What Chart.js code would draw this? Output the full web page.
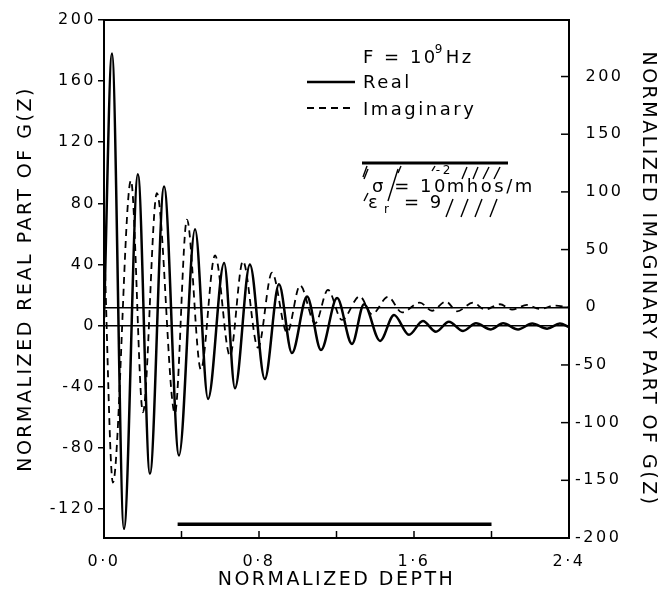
<!DOCTYPE html>
<html>
<head>
<meta charset="utf-8">
<script src="https://cdn.jsdelivr.net/npm/chart.js@4.4.0/dist/chart.umd.min.js"></script>
<style>
  html, body { margin: 0; padding: 0; background: #fff; }
</style>
</head>
<body>
<canvas id="gzChart" width="662" height="594"></canvas>
<script>
// values (peaks / troughs of each oscillation)
const realDepth = [0.000, 0.041, 0.103, 0.175, 0.237, 0.310, 0.387, 0.470, 0.537, 0.620,
                   0.676, 0.753, 0.830, 0.903, 0.970, 1.048, 1.120, 1.203, 1.280, 1.342,
                   1.425, 1.497, 1.574, 1.646, 1.713, 1.780, 1.853, 1.920, 1.997, 2.060,
                   2.137, 2.210, 2.287, 2.353, 2.400];
const realValue = [5, 178, -133, 99, -97, 91, -85, 63, -48, 41,
                   -41, 40, -35, 27, -18, 19, -16, 18, -12, 14,
                   -10, 7, -6, 3, -4, 2.5, -3.5, 1.5, -2.5, 1.5,
                   -2.5, 1.3, -2, 1.3, -1];

const imagDepth = [0.000, 0.046, 0.139, 0.201, 0.273, 0.366, 0.428, 0.500, 0.573, 0.650,
                   0.717, 0.795, 0.867, 0.945, 1.012, 1.090, 1.156, 1.228, 1.320, 1.383,
                   1.466, 1.538, 1.630, 1.693, 1.765, 1.822, 1.905, 1.966, 2.044, 2.106,
                   2.183, 2.250, 2.328, 2.400];
const imagValue = [60, -152, 110, -91, 99, -92, 76, -54, 45, -42,
                   40, -35, 30, -22, 19, -14, 15, -11, 9.5, -6,
                   9, -4.5, 4, -3, 5, -3.5, 4, -2, 2.6, -2,
                   2, -1.5, 1.5, 0];

// thick bar near the bottom of the plot
const barDepth = [0.38, 2.0];
const barValue = [-130, -130];

const leftTicks = [-120, -80, -40, 0, 40, 80, 120, 160, 200];
const rightTicks = [-200, -150, -100, -50, 0, 50, 100, 150, 200];
const depthTicks = [0, 0.4, 0.8, 1.2, 1.6, 2.0, 2.4];
const depthLabels = ['0·0', '', '0·8', '', '1·6', '', '2·4'];

const FONT = 'DejaVu Sans';
const SPACING = '2.5px';

function pts(xs, ys) {
    return xs.map((x, i) => ({ x: x, y: ys[i] }));
}

function line(ctx, x1, y1, x2, y2) {
    ctx.beginPath();
    ctx.moveTo(x1, y1);
    ctx.lineTo(x2, y2);
    ctx.stroke();
}

const annotate = {
    id: 'annotate',
    beforeLayout(chart) { chart.ctx.letterSpacing = SPACING; },
    beforeDraw(chart) { chart.ctx.letterSpacing = SPACING; },
    afterDraw(chart) {
        const { ctx, chartArea: a, scales } = chart;
        ctx.save();
        ctx.strokeStyle = '#000';
        ctx.fillStyle = '#000';
        ctx.lineCap = 'butt';

        // top of the frame
        ctx.lineWidth = 2;
        line(ctx, a.left, a.top, a.right, a.top);

        // inward ticks on bottom and right axes
        ctx.lineWidth = 1.5;
        depthTicks.forEach(v => {
            if (v > 0 && v < 2.4) {
                const px = scales.x.getPixelForValue(v);
                line(ctx, px, a.bottom, px, a.bottom - 7);
            }
        });
        rightTicks.forEach(v => {
            const py = scales.y1.getPixelForValue(v);
            line(ctx, a.right, py, a.right - 8, py);
        });

        // legend
        const lx = a.right - 262, tx = a.right - 206;
        ctx.textBaseline = 'middle';
        ctx.textAlign = 'left';
        ctx.letterSpacing = SPACING;
        ctx.font = '18px "' + FONT + '"';
        let w = ctx.measureText('F = 10').width;
        ctx.fillText('F = 10', tx, a.top + 38);
        ctx.font = '12px "' + FONT + '"';
        ctx.fillText('9', tx + w - 3, a.top + 30);
        ctx.font = '18px "' + FONT + '"';
        ctx.fillText('Hz', tx + w + 8, a.top + 38);

        ctx.lineWidth = 2.5;
        line(ctx, lx, a.top + 62, lx + 48, a.top + 62);
        ctx.fillText('Real', tx, a.top + 63);
        ctx.lineWidth = 2;
        ctx.setLineDash([7, 5]);
        line(ctx, lx, a.top + 88, lx + 48, a.top + 88);
        ctx.setLineDash([]);
        ctx.fillText('Imaginary', tx, a.top + 90);

        // ground symbol
        const gx = a.right - 207, gy = a.top + 143;
        ctx.lineWidth = 3;
        line(ctx, gx, gy, gx + 146, gy);
        ctx.lineWidth = 1.4;
        const hatch = [[1, 14, 5, 3], [36, 10, 39, 3], [70, 8, 73, 3], [100, 16, 105, 4],
                       [111, 16, 116, 4], [121, 16, 127, 4], [132, 16, 138, 4],
                       [2, 38, 6, 30], [26, 38, 36, 6], [2, 16, 6, 6],
                       [84, 54, 91, 36], [99, 54, 106, 36], [113, 54, 120, 36], [128, 54, 135, 36]];
        hatch.forEach(h => line(ctx, gx + h[0], gy + h[1], gx + h[2], gy + h[3]));

        ctx.font = '18px "' + FONT + '"';
        const s1 = 'σ = 10';
        w = ctx.measureText(s1).width;
        ctx.fillText(s1, gx + 10, gy + 24);
        ctx.font = '12px "' + FONT + '"';
        ctx.fillText('-2', gx + 10 + w - 12, gy + 8);
        ctx.font = '18px "' + FONT + '"';
        ctx.fillText('mhos/m', gx + 10 + w - 1, gy + 24);

        ctx.fillText('ε', gx + 6, gy + 40);
        ctx.font = '12px "' + FONT + '"';
        ctx.fillText('r', gx + 22, gy + 47);
        ctx.font = '18px "' + FONT + '"';
        ctx.fillText('= 9', gx + 42, gy + 40);
        ctx.restore();
    }
};

const ctx = document.getElementById('gzChart');

new Chart(ctx, {
    type: 'line',
    data: {
        datasets: [{
            label: 'Real',
            data: pts(realDepth, realValue),
            yAxisID: 'y',
            borderColor: '#000',
            borderWidth: 2.5,
            pointRadius: 0,
            cubicInterpolationMode: 'monotone',
        }, {
            label: 'Imaginary',
            data: pts(imagDepth, imagValue),
            yAxisID: 'y1',
            borderColor: '#000',
            borderWidth: 1.8,
            borderDash: [7, 5],
            pointRadius: 0,
            cubicInterpolationMode: 'monotone',
        }, {
            label: 'bar',
            data: pts(barDepth, barValue),
            yAxisID: 'y',
            borderColor: '#000',
            borderWidth: 3.5,
            pointRadius: 0,
        }],
    },
    options: {
        responsive: false,
        animation: false,
        layout: { padding: { top: 20, left: 0, right: 0, bottom: 0 } },
        scales: {
            x: {
                type: 'linear',
                min: 0,
                max: 2.4,
                afterBuildTicks: s => { s.ticks = depthTicks.map(v => ({ value: v })); },
                afterFit: s => { s.height = 56; },
                ticks: {
                    autoSkip: false,
                    maxRotation: 0,
                    padding: 6,
                    color: '#000',
                    font: { family: FONT, size: 16 },
                    callback: (v, i) => depthLabels[i],
                },
                grid: { display: false },
                border: { display: true, color: '#000', width: 2 },
                title: {
                    display: true,
                    text: 'NORMALIZED DEPTH',
                    color: '#000',
                    font: { family: FONT, size: 19 },
                    padding: { top: 0, bottom: 3 },
                },
            },
            y: {
                position: 'left',
                min: -139,
                max: 200,
                afterBuildTicks: s => { s.ticks = leftTicks.map(v => ({ value: v })); },
                afterFit: s => { s.width = 104; },
                ticks: {
                    padding: 2,
                    color: '#000',
                    font: { family: FONT, size: 16 },
                },
                grid: {
                    color: c => (c.tick && c.tick.value === 0) ? '#000' : 'rgba(0,0,0,0)',
                    lineWidth: 1.5,
                    tickColor: '#000',
                    tickLength: 6,
                    tickWidth: 1.5,
                },
                border: { display: true, color: '#000', width: 2 },
                title: {
                    display: true,
                    text: 'NORMALIZED REAL PART OF G(Z)',
                    color: '#000',
                    font: { family: FONT, size: 19 },
                    padding: { top: 15, bottom: 0 },
                },
            },
            y1: {
                position: 'right',
                min: -200,
                max: 249,
                afterBuildTicks: s => { s.ticks = rightTicks.map(v => ({ value: v })); },
                afterFit: s => { s.width = 93; },
                ticks: {
                    padding: 6,
                    color: '#000',
                    font: { family: FONT, size: 16 },
                    callback: v => v >= 0 ? '\u2002' + v : String(v),
                },
                grid: {
                    color: c => (c.tick && c.tick.value === 0) ? '#000' : 'rgba(0,0,0,0)',
                    lineWidth: 1.5,
                    drawTicks: false,
                },
                border: { display: true, color: '#000', width: 2 },
                title: {
                    display: true,
                    text: 'NORMALIZED IMAGINARY PART OF G(Z)',
                    color: '#000',
                    font: { family: FONT, size: 19 },
                    padding: { top: 3, bottom: 0 },
                },
            },
        },
        plugins: {
            legend: { display: false },
            tooltip: { enabled: false },
        },
    },
    plugins: [annotate],
});
</script>
</body>
</html>
